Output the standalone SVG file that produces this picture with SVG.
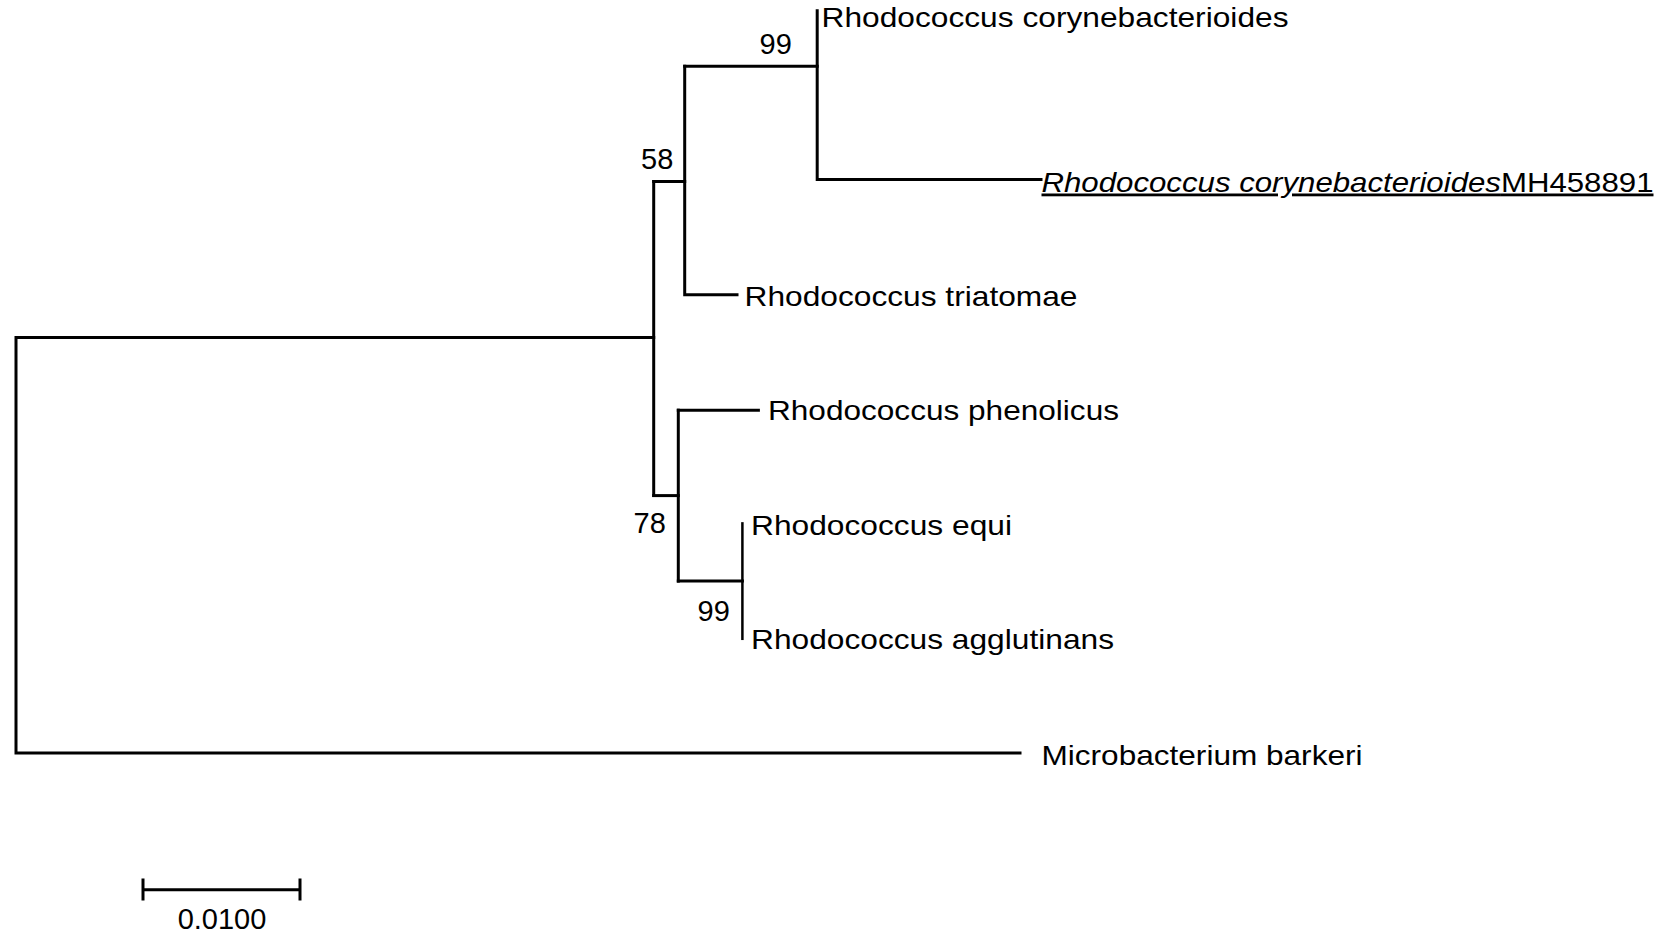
<svg xmlns="http://www.w3.org/2000/svg" width="1675" height="937" viewBox="0 0 1675 937">
<style>
.br{fill:none;stroke:#000;stroke-width:3;stroke-linecap:square;stroke-linejoin:miter}
.lf{font-family:"Liberation Sans",Arial,sans-serif;font-size:28px;fill:#000}
.bs{font-family:"Liberation Sans",Arial,sans-serif;font-size:29px;fill:#000}
</style>
<rect width="1675" height="937" fill="#fff"/>
<g id="connectors">
<path class="br" d="M653.7,337.6 H16 V753 H1020"/>
<path class="br" d="M653.7,181.6 V495.6"/>
<path class="br" d="M653.7,181.6 H684.7"/>
<path class="br" d="M684.7,66.2 V294.8 H737"/>
<path class="br" d="M684.7,66.2 H817.2"/>
<path class="br" d="M817.2,10.7 V179.5 H1041"/>
<path class="br" d="M653.7,495.6 H678.3"/>
<path class="br" d="M678.3,410.2 V581.1"/>
<path class="br" d="M678.3,410.2 H758.4"/>
<path class="br" d="M678.3,581.1 H742.4"/>
<path class="br" d="M742.4,523.4 V638.8" style="stroke-width:2.5"/>
</g>
<g id="node-corynebacterioides"><text class="lf" x="821.5" y="27" textLength="467" lengthAdjust="spacingAndGlyphs">Rhodococcus corynebacterioides</text></g>
<g id="node-MH458891"><text class="lf" x="1041.5" y="191.5" textLength="612" lengthAdjust="spacingAndGlyphs" text-decoration="underline"><tspan font-style="italic">Rhodococcus corynebacterioides</tspan>MH458891</text></g>
<g id="node-triatomae"><text class="lf" x="744.5" y="305.5" textLength="333" lengthAdjust="spacingAndGlyphs">Rhodococcus triatomae</text></g>
<g id="node-phenolicus"><text class="lf" x="768" y="420" textLength="351" lengthAdjust="spacingAndGlyphs">Rhodococcus phenolicus</text></g>
<g id="node-equi"><text class="lf" x="751" y="535" textLength="261" lengthAdjust="spacingAndGlyphs">Rhodococcus equi</text></g>
<g id="node-agglutinans"><text class="lf" x="751" y="649" textLength="363" lengthAdjust="spacingAndGlyphs">Rhodococcus agglutinans</text></g>
<g id="node-barkeri"><text class="lf" x="1041.5" y="764.5" textLength="321" lengthAdjust="spacingAndGlyphs">Microbacterium barkeri</text></g>
<g id="bootstrap">
<text class="bs" x="759.5" y="53.5">99</text>
<text class="bs" x="641" y="169">58</text>
<text class="bs" x="633.5" y="533">78</text>
<text class="bs" x="697.5" y="620.5">99</text>
</g>
<g id="scale-bar">
<path class="br" d="M143,889.8 H300 M143,880 V899 M300,880 V899"/>
<text class="bs" x="222" y="929" text-anchor="middle">0.0100</text>
</g>
</svg>
